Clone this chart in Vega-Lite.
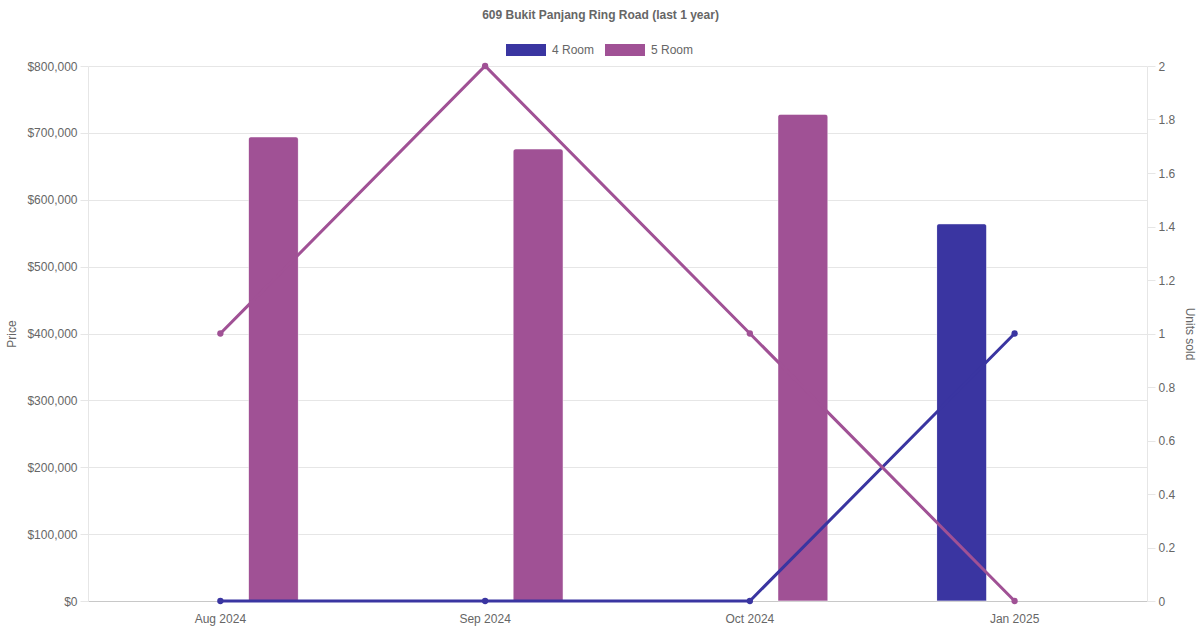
{
  "$schema": "https://vega.github.io/schema/vega-lite/v6.json",
  "autosize": "none",
  "width": 1059,
  "height": 535,
  "padding": {"left": 88, "top": 66, "right": 53, "bottom": 29},
  "background": "white",
  "title": {
    "text": "609 Bukit Panjang Ring Road (last 1 year)",
    "anchor": "middle",
    "dx": -17,
    "offset": 8,
    "font": "Liberation Sans",
    "fontSize": 12,
    "fontWeight": "bold",
    "color": "#666666"
  },
  "data": {
    "values": [
      {"month": "Aug 2024", "type": "4 Room", "price": null, "units": 0},
      {"month": "Aug 2024", "type": "5 Room", "price": 694000, "units": 1},
      {"month": "Sep 2024", "type": "4 Room", "price": null, "units": 0},
      {"month": "Sep 2024", "type": "5 Room", "price": 676000, "units": 2},
      {"month": "Oct 2024", "type": "4 Room", "price": null, "units": 0},
      {"month": "Oct 2024", "type": "5 Room", "price": 728000, "units": 1},
      {"month": "Jan 2025", "type": "4 Room", "price": 564000, "units": 1},
      {"month": "Jan 2025", "type": "5 Room", "price": null, "units": 0}
    ]
  },
  "encoding": {
    "x": {
      "field": "month",
      "type": "ordinal",
      "sort": ["Aug 2024", "Sep 2024", "Oct 2024", "Jan 2025"],
      "scale": {"paddingInner": 0, "paddingOuter": 0},
      "title": null,
      "axis": {
        "labelAngle": 0,
        "ticks": false,
        "grid": false,
        "labelPadding": 12,
        "domainColor": "#c8c8c8"
      }
    },
    "color": {
      "field": "type",
      "type": "nominal",
      "scale": {"domain": ["4 Room", "5 Room"], "range": ["#3a35a1", "#a05195"]},
      "legend": {
        "title": null,
        "orient": "none",
        "direction": "horizontal",
        "legendX": 418,
        "legendY": -36,
        "symbolType": "M-1,-0.3H1V0.3H-1Z",
        "symbolSize": 1600,
        "symbolStrokeWidth": 0,
        "labelOffset": 6,
        "columnPadding": 10,
        "labelFont": "Liberation Sans",
        "labelFontSize": 12,
        "labelColor": "#666666"
      }
    }
  },
  "layer": [
    {
      "transform": [{"filter": "isValid(datum.price)"}],
      "mark": {
        "type": "bar",
        "cornerRadiusTopLeft": 3,
        "cornerRadiusTopRight": 3,
        "stroke": "white",
        "strokeOpacity": 0.35,
        "strokeWidth": 1
      },
      "encoding": {
        "xOffset": {
          "field": "type",
          "type": "nominal",
          "sort": ["4 Room", "5 Room"],
          "scale": {"domain": ["4 Room", "5 Room"], "paddingInner": 0.528, "paddingOuter": 0.513}
        },
        "y": {
          "field": "price",
          "type": "quantitative",
          "title": "Price",
          "scale": {"domain": [0, 800000], "nice": false},
          "axis": {
            "orient": "left",
            "format": "$,.0f",
            "tickCount": 8,
            "grid": true,
            "gridColor": "#e6e6e6",
            "tickColor": "#e6e6e6",
            "tickSize": 8,
            "domainColor": "#e6e6e6",
            "labelPadding": 3,
            "titlePadding": 8
          }
        }
      }
    },
    {
      "mark": {
        "type": "line",
        "strokeWidth": 3,
        "point": {"filled": true, "size": 40}
      },
      "encoding": {
        "y": {
          "field": "units",
          "type": "quantitative",
          "title": "Units sold",
          "scale": {"domain": [0, 2], "nice": false},
          "axis": {
            "orient": "right",
            "values": [0, 0.2, 0.4, 0.6, 0.8, 1, 1.2, 1.4, 1.6, 1.8, 2],
            "format": "~g",
            "grid": false,
            "tickColor": "#e6e6e6",
            "tickSize": 8,
            "domainColor": "#e6e6e6",
            "labelPadding": 3,
            "titlePadding": 8
          }
        }
      }
    }
  ],
  "resolve": {"scale": {"y": "independent"}, "axis": {"y": "independent"}},
  "config": {
    "view": {"stroke": null},
    "axis": {
      "labelFont": "Liberation Sans",
      "labelFontSize": 12,
      "labelColor": "#666666",
      "titleFont": "Liberation Sans",
      "titleFontSize": 12,
      "titleFontWeight": "normal",
      "titleColor": "#666666"
    }
  }
}
